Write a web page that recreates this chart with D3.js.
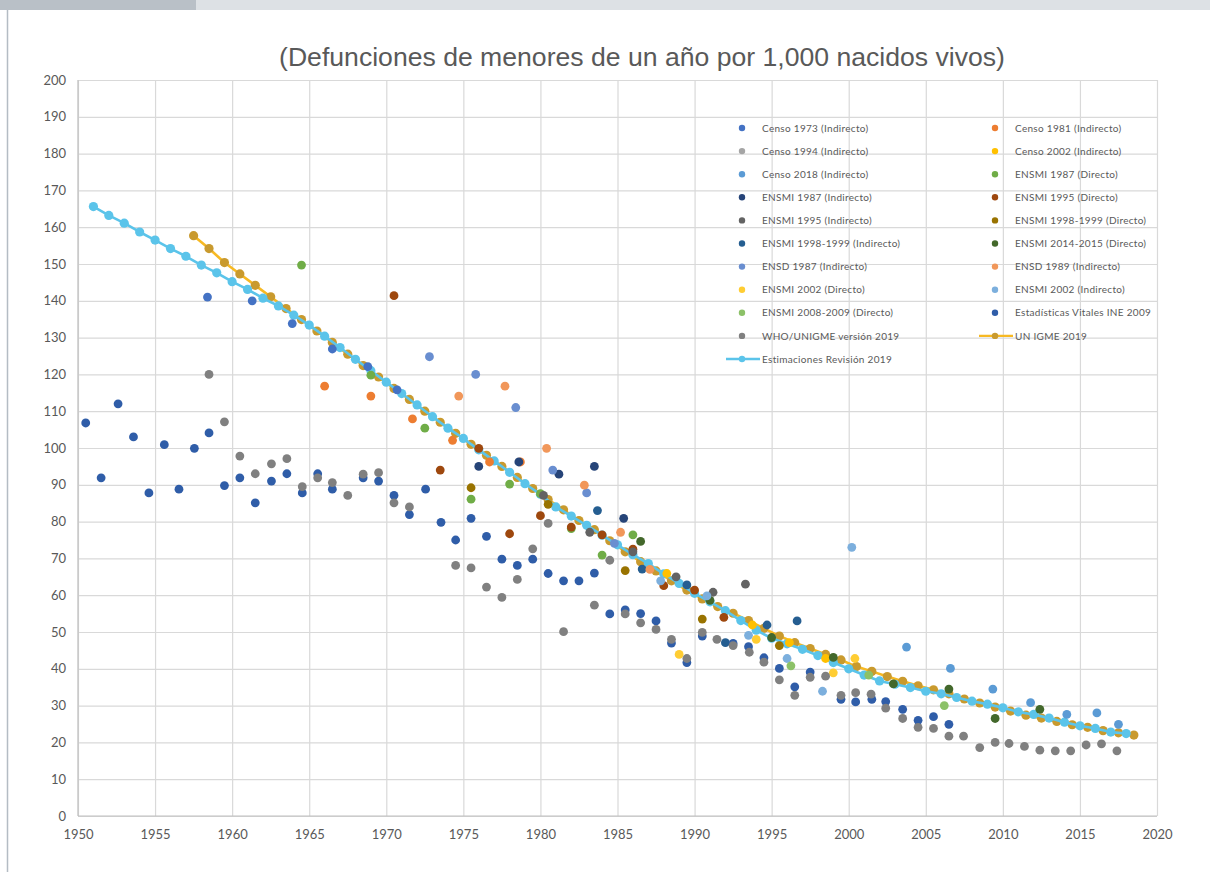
<!DOCTYPE html>
<html>
<head>
<meta charset="utf-8">
<script src="https://cdn.jsdelivr.net/npm/d3@7"></script>
<style>
  body { margin: 0; background: #fff; }
  svg { display: block; }
</style>
</head>
<body>
<div id="chart"></div>
<script>
// --- data: [year, value] ---
var censo1973 = [[1958.4, 141.0], [1961.3, 140.0], [1963.9, 133.8], [1966.5, 126.9], [1968.8, 122.1], [1970.7, 115.8]];
var censo1981 = [[1966.0, 116.8], [1969.0, 114.1], [1971.7, 107.9], [1974.3, 102.1], [1976.7, 96.2], [1978.7, 96.2]];
var censo1994 = [];
var censo2002 = [[1988.2, 65.9], [1993.75, 51.9], [1996.15, 47.1], [1998.5, 42.8]];
var censo2018 = [[2003.75, 45.9], [2006.6, 40.1], [2009.35, 34.5], [2011.8, 30.8], [2014.15, 27.6], [2016.1, 28.0], [2017.5, 24.9]];
var ensmi1987D = [[1964.5, 149.7], [1969.0, 119.8], [1972.5, 105.4], [1975.5, 86.1], [1978.0, 90.2], [1980.0, 87.6], [1982.0, 78.1], [1984.0, 70.9], [1986.0, 76.4]];
var ensmi1987I = [[1976.0, 95.0], [1978.6, 96.2], [1981.2, 92.9], [1983.5, 95.0], [1985.4, 80.9]];
var ensmi1995D = [[1970.5, 141.4], [1973.5, 94.0], [1976.0, 99.9], [1978.0, 76.7], [1980.0, 81.6], [1982.0, 78.5], [1984.0, 76.4], [1986.0, 72.5], [1988.0, 62.6], [1990.0, 61.4], [1991.9, 54.0]];
var ensmi1995I = [[1980.2, 87.1], [1983.2, 77.1], [1986.0, 71.8], [1988.8, 65.0], [1991.2, 60.8], [1993.3, 63.0]];
var ensmi1998D = [[1975.5, 89.2], [1980.5, 84.7], [1985.5, 66.7], [1990.5, 53.5], [1995.5, 46.3]];
var ensmi1998I = [[1983.7, 83.0], [1986.6, 67.1], [1989.5, 62.8], [1992.0, 47.1], [1994.7, 51.9], [1996.65, 53.0]];
var ensmi2014D = [[1986.5, 74.6], [1991.0, 58.6], [1995.0, 48.5], [1999.0, 43.1], [2002.9, 35.9], [2006.5, 34.5], [2009.5, 26.5], [2012.4, 29.0]];
var ensd1987 = [[1972.8, 124.8], [1975.8, 120.0], [1978.4, 111.0], [1980.8, 94.0], [1983.0, 87.8], [1984.8, 74.1]];
var ensd1989 = [[1974.7, 114.1], [1977.7, 116.8], [1980.4, 99.9], [1982.85, 89.9], [1985.2, 77.1], [1987.1, 67.0]];
var ensmi2002D = [[1989.0, 43.9], [1994.0, 48.0], [1999.0, 38.9], [2000.4, 42.8]];
var ensmi2002I = [[1987.8, 63.9], [1990.8, 59.8], [1993.5, 49.1], [1996.0, 42.8], [1998.3, 33.9], [2000.2, 73.0]];
var ensmi2008D = [[1996.25, 40.8], [2001.3, 38.3], [2006.2, 30.0]];
var estVitales = [[1950.5, 106.8], [1951.5, 91.9], [1952.6, 112.0], [1953.6, 103.0], [1954.6, 87.8], [1955.6, 100.9], [1956.55, 88.8], [1957.55, 99.9], [1958.5, 104.1], [1959.5, 89.8],
  [1960.5, 91.9], [1961.5, 85.1], [1962.55, 91.0], [1963.55, 93.0], [1964.55, 87.8], [1965.55, 93.0], [1966.5, 88.8], [1968.5, 91.9], [1969.5, 91.0],
  [1970.5, 87.1], [1971.5, 81.9], [1972.55, 88.8], [1973.55, 79.8], [1974.5, 75.0], [1975.5, 80.9], [1976.5, 76.0], [1977.5, 69.8], [1978.5, 68.1], [1979.5, 69.8],
  [1980.5, 65.9], [1981.5, 63.9], [1982.5, 63.9], [1983.5, 66.0], [1984.5, 54.9], [1985.5, 56.0], [1986.5, 55.0], [1987.5, 53.0], [1988.5, 47.0], [1989.5, 41.7],
  [1990.5, 48.9], [1992.5, 46.9], [1993.5, 46.0], [1994.5, 43.0], [1995.5, 40.1], [1996.5, 35.1], [1997.5, 39.1], [1999.5, 31.7],
  [2000.45, 31.0], [2001.5, 31.7], [2002.4, 31.1], [2003.5, 29.0], [2004.5, 26.0], [2005.5, 27.0], [2006.5, 24.9]];
var whoUnigme = [[1958.5, 120.0], [1959.5, 107.1], [1960.5, 97.8], [1961.5, 93.0], [1962.55, 95.7], [1963.55, 97.1], [1964.55, 89.5], [1965.55, 91.9], [1966.5, 90.6], [1967.5, 87.1],
  [1968.5, 92.9], [1969.5, 93.3], [1970.5, 85.1], [1971.5, 84.0], [1974.5, 68.1], [1975.5, 67.4], [1976.5, 62.2], [1977.5, 59.4], [1978.5, 64.3], [1979.5, 72.6],
  [1980.5, 79.5], [1981.5, 50.1], [1983.5, 57.3], [1984.5, 69.5], [1985.5, 54.9], [1986.5, 52.5], [1987.5, 50.7], [1988.5, 48.0], [1989.5, 42.8],
  [1990.5, 49.9], [1991.45, 48.0], [1992.5, 46.3], [1993.55, 44.5], [1994.5, 41.8], [1995.5, 37.0], [1996.5, 32.8], [1997.5, 37.7], [1998.5, 38.0], [1999.5, 32.8],
  [2000.45, 33.5], [2001.45, 33.1], [2002.4, 29.3], [2003.5, 26.5], [2004.5, 24.1], [2005.5, 23.8], [2006.5, 21.7], [2007.45, 21.7], [2008.5, 18.6], [2009.5, 20.0],
  [2010.4, 19.7], [2011.4, 18.9], [2012.4, 17.9], [2013.4, 17.7], [2014.4, 17.7], [2015.4, 19.3], [2016.4, 19.6], [2017.4, 17.7]];

// UN IGME 2019, mid-year 1957.5 .. 2018.5
var unigmeYears = d3.range(1957.5, 2019, 1);
var unigmeValues = [157.7, 154.2, 150.4, 147.3, 144.2, 141.1, 137.9, 134.9, 131.8, 128.7,
  125.5, 122.4, 119.3, 116.2, 113.2, 110.0, 107.0, 104.0, 101.0, 98.0,
  95.0, 92.0, 89.0, 86.0, 83.2, 80.3, 77.8, 74.8, 71.8, 69.1,
  66.6, 63.9, 61.4, 59.0, 56.9, 55.1, 53.1, 51.0, 48.9, 47.1,
  45.5, 43.9, 42.4, 40.6, 39.3, 37.9, 36.6, 35.4, 34.3, 33.2,
  31.8, 30.7, 29.6, 28.5, 27.4, 26.6, 25.7, 24.8, 24.1, 23.2,
  22.6, 22.0];

// Estimaciones Revision 2019, 1951 .. 2018
var estimYears = d3.range(1951, 2019, 1);
var estimValues = [165.6, 163.2, 161.1, 158.7, 156.5, 154.2, 152.1, 149.7, 147.6,
  145.2, 143.1, 140.7, 138.6, 136.1, 133.4, 130.4, 127.3, 124.1, 121.0,
  117.9, 114.8, 111.7, 108.5, 105.4, 102.6, 99.5, 96.5, 93.4, 90.3,
  87.4, 84.0, 81.5, 79.0, 76.3, 73.7, 71.0, 68.6, 65.8, 63.2,
  60.5, 58.2, 55.8, 53.1, 50.5, 48.3, 46.8, 45.3, 43.6, 41.7,
  40.0, 38.3, 36.7, 35.8, 34.9, 33.9, 33.2, 32.2, 31.2, 30.4,
  29.4, 28.3, 27.6, 26.6, 25.5, 24.5, 23.8, 22.8, 22.4];

var yTicks = d3.range(0, 201, 10);
var xTicks = d3.range(1950, 2021, 5);

var scatterSeries = [
  { name: 'Censo 1973 (Indirecto)', color: '#4472C4', data: censo1973 },
  { name: 'Censo 1981 (Indirecto)', color: '#ED7D31', data: censo1981 },
  { name: 'Censo 1994 (Indirecto)', color: '#A5A5A5', data: censo1994 },
  { name: 'Censo 2002 (Indirecto)', color: '#FFC000', data: censo2002 },
  { name: 'Censo 2018 (Indirecto)', color: '#5B9BD5', data: censo2018 },
  { name: 'ENSMI 1987 (Directo)', color: '#70AD47', data: ensmi1987D },
  { name: 'ENSMI 1987 (Indirecto)', color: '#264478', data: ensmi1987I },
  { name: 'ENSMI 1995 (Directo)', color: '#9E480E', data: ensmi1995D },
  { name: 'ENSMI 1995 (Indirecto)', color: '#636363', data: ensmi1995I },
  { name: 'ENSMI 1998-1999 (Directo)', color: '#997300', data: ensmi1998D },
  { name: 'ENSMI 1998-1999 (Indirecto)', color: '#255E91', data: ensmi1998I },
  { name: 'ENSMI 2014-2015 (Directo)', color: '#43682B', data: ensmi2014D },
  { name: 'ENSD 1987 (Indirecto)', color: '#698ED0', data: ensd1987 },
  { name: 'ENSD 1989 (Indirecto)', color: '#F1975A', data: ensd1989 },
  { name: 'ENSMI 2002 (Directo)', color: '#FFCD33', data: ensmi2002D },
  { name: 'ENSMI 2002 (Indirecto)', color: '#7CAFDD', data: ensmi2002I },
  { name: 'ENSMI 2008-2009 (Directo)', color: '#8CC168', data: ensmi2008D },
  { name: 'Estadísticas Vitales INE 2009', color: '#2F5DA8', data: estVitales },
  { name: 'WHO/UNIGME versión 2019', color: '#808080', data: whoUnigme }
];

var lineSeries = [
  { name: 'UN IGME 2019', line: '#F7B923', dot: '#C99A2E', data: unigmeYears.map(function (yr, i) {return [yr, unigmeValues[i]];}) },
  { name: 'Estimaciones Revisión 2019', line: '#5BC4EA', dot: '#5BC4EA', data: estimYears.map(function (yr, i) {return [yr, estimValues[i]];}) }
];

drawChart();

function drawChart() {
  var W = 1210, H = 872;
  var pLeft = 78, pRight = 1157, pTop = 80, pBottom = 816;
  var textColor = '#595959';

  var svg = d3.select('#chart').append('svg').
  attr('width', W).
  attr('height', H);

  // page chrome
  svg.append('rect').attr('x', 0).attr('y', 0).attr('width', W).attr('height', 10).attr('fill', '#dde1e5');
  svg.append('rect').attr('x', 0).attr('y', 0).attr('width', 196).attr('height', 10).attr('fill', '#b9c0c7');
  svg.append('line').attr('x1', 7.5).attr('x2', 7.5).attr('y1', 10).attr('y2', H).attr('stroke', '#b4bcc4').attr('stroke-width', 1.5);

  var x = d3.scaleLinear().domain([1950, 2020]).range([pLeft, pRight]);
  var y = d3.scaleLinear().domain([0, 200]).range([pBottom, pTop]);

  // grid
  svg.append('g').
  attr('transform', 'translate(' + pLeft + ',0)').
  call(d3.axisLeft(y).tickValues(yTicks).tickSize(-(pRight - pLeft)).tickFormat('')).
  call(function (g) {
    g.select('.domain').remove();
    g.selectAll('line').attr('stroke', '#d9d9d9').attr('stroke-width', 1.2);
  });
  svg.append('g').
  attr('transform', 'translate(0,' + pBottom + ')').
  call(d3.axisBottom(x).tickValues(xTicks).tickSize(-(pBottom - pTop)).tickFormat('')).
  call(function (g) {
    g.select('.domain').remove();
    g.selectAll('line').attr('stroke', '#d9d9d9').attr('stroke-width', 1.2);
  });

  // axis lines
  svg.append('line').attr('x1', pLeft).attr('x2', pRight).attr('y1', pBottom).attr('y2', pBottom).attr('stroke', '#bfbfbf').attr('stroke-width', 1.2);
  svg.append('line').attr('x1', pLeft).attr('x2', pLeft).attr('y1', pTop).attr('y2', pBottom).attr('stroke', '#bfbfbf').attr('stroke-width', 1.2);

  // tick labels
  var yAx = svg.append('g').
  attr('transform', 'translate(' + pLeft + ',0)').
  call(d3.axisLeft(y).tickValues(yTicks).tickSize(0).tickPadding(12));
  yAx.select('.domain').remove();
  yAx.selectAll('text').attr('fill', textColor).style('font-family', 'Lato, sans-serif').style('font-size', '13px');

  var xAx = svg.append('g').
  attr('transform', 'translate(0,' + pBottom + ')').
  call(d3.axisBottom(x).tickValues(xTicks).tickSize(0).tickPadding(14).tickFormat(d3.format('d')));
  xAx.select('.domain').remove();
  xAx.selectAll('text').attr('fill', textColor).style('font-family', 'Lato, sans-serif').style('font-size', '13px');

  // title
  svg.append('text').
  attr('x', 642).
  attr('y', 66).
  attr('text-anchor', 'middle').
  attr('fill', textColor).
  style('font-family', '"Liberation Sans", Arial, sans-serif').
  style('font-size', '26.6px').
  text('(Defunciones de menores de un año por 1,000 nacidos vivos)');

  // line series (drawn under the scatter points)
  var lineGen = d3.line().x(function (d) {return x(d[0]);}).y(function (d) {return y(d[1]);});

  lineSeries.forEach(function (s) {
    svg.append('path').
    datum(s.data).
    attr('d', lineGen).
    attr('fill', 'none').
    attr('stroke', s.line).
    attr('stroke-width', 2.6).
    attr('stroke-linejoin', 'round');
    svg.append('g').selectAll('circle').
    data(s.data).
    enter().
    append('circle').
    attr('cx', function (d) {return x(d[0]);}).
    attr('cy', function (d) {return y(d[1]);}).
    attr('r', 4.6).
    attr('fill', s.dot);
  });

  scatterSeries.forEach(function (s) {
    svg.append('g').selectAll('circle').
    data(s.data).
    enter().
    append('circle').
    attr('cx', function (d) {return x(d[0]);}).
    attr('cy', function (d) {return y(d[1]);}).
    attr('r', 4.4).
    attr('fill', s.color);
  });

  // legend, two columns, filled row by row
  var legendItems = scatterSeries.map(function (s) {return { name: s.name, dot: s.color, line: null };}).
  concat(lineSeries.map(function (s) {return { name: s.name, dot: s.dot, line: s.line };}));

  var legend = svg.append('g').attr('id', 'legend');
  var colX = [742, 995];
  var rowY0 = 128, rowStep = 23.1;

  legendItems.forEach(function (it, i) {
    var cx = colX[i % 2];
    var cy = rowY0 + Math.floor(i / 2) * rowStep;
    var g = legend.append('g');
    if (it.line) {
      g.append('line').attr('x1', cx - 16).attr('x2', cx + 18).attr('y1', cy).attr('y2', cy).attr('stroke', it.line).attr('stroke-width', 2.4);
    }
    g.append('circle').attr('cx', cx).attr('cy', cy).attr('r', 3.2).attr('fill', it.dot);
    g.append('text').
    attr('x', cx + 20).
    attr('y', cy + 3.6).
    attr('fill', textColor).
    style('font-family', 'Lato, sans-serif').
    style('font-size', '10px').
    style('letter-spacing', '0.3px').
    text(it.name);
  });
}
</script>
</body>
</html>
